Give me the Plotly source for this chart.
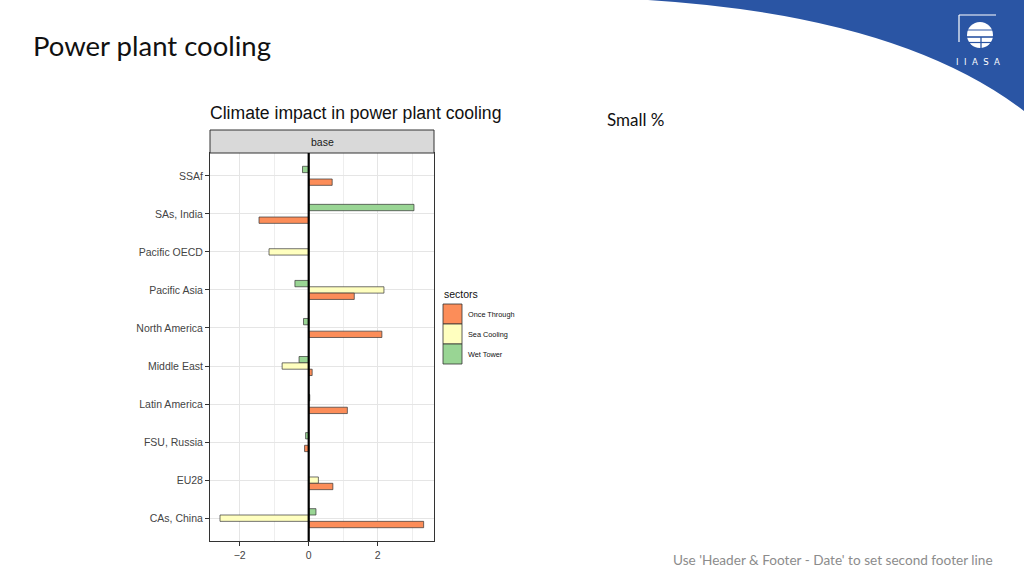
import plotly.graph_objects as go

# ---- data ----
regions = ["SSAf", "SAs, India", "Pacific OECD", "Pacific Asia", "North America",
           "Middle East", "Latin America", "FSU, Russia", "EU28", "CAs, China"]
once_through = [0.68, -1.44, None, 1.32, 2.12, 0.10, 1.12, -0.12, 0.70, 3.33]
sea_cooling = [None, None, -1.15, 2.18, None, -0.77, None, None, 0.28, -2.57]
wet_tower = [-0.18, 3.05, None, -0.40, -0.15, -0.28, 0.03, -0.09, None, 0.21]

sector_names = ["Once Through", "Sea Cooling", "Wet Tower"]
sector_colors = ["#fc8d59", "#ffffbf", "#99d594"]
x_ticks = [-2, 0, 2]

W, H = 1024, 576
BLUE = "#2a55a4"


def px(x):
    return x / W


def py(y):
    return 1 - y / H


fig = go.Figure()
# top-to-bottom within a group: Wet Tower, Sea Cooling, Once Through
for name, vals, col in [("Wet Tower", wet_tower, sector_colors[2]),
                        ("Sea Cooling", sea_cooling, sector_colors[1]),
                        ("Once Through", once_through, sector_colors[0])]:
    fig.add_trace(go.Bar(
        y=regions, x=vals, orientation="h", name=name,
        marker=dict(color=col, line=dict(color="#333333", width=0.7)),
        showlegend=False, hoverinfo="x+y+name"))

shapes = []
# blue swoosh top-right
shapes.append(dict(type="path", xref="paper", yref="paper",
                   path=f"M {px(648)},{py(0)} Q {px(900)},{py(16)} {px(1024)},{py(111)} "
                        f"L {px(1024)},{py(0)} Z",
                   fillcolor=BLUE, line=dict(width=0), layer="below"))
# logo bracket
shapes.append(dict(type="line", xref="paper", yref="paper", x0=px(959), x1=px(996),
                   y0=py(15), y1=py(15), line=dict(color="white", width=1.2)))
shapes.append(dict(type="line", xref="paper", yref="paper", x0=px(959), x1=px(959),
                   y0=py(15), y1=py(42), line=dict(color="white", width=1.2)))
# logo globe
shapes.append(dict(type="circle", xref="paper", yref="paper", x0=px(967), x1=px(993),
                   y0=py(22), y1=py(48), fillcolor="white", line=dict(width=0)))
for yy, wdt in [(30, 1.0), (37, 1.6), (42.5, 1.2)]:
    shapes.append(dict(type="line", xref="paper", yref="paper", x0=px(965), x1=px(995),
                       y0=py(yy), y1=py(yy), line=dict(color=BLUE, width=wdt)))
shapes.append(dict(type="line", xref="paper", yref="paper", x0=px(981), x1=px(981),
                   y0=py(37), y1=py(49), line=dict(color=BLUE, width=1.3)))
# facet strip
shapes.append(dict(type="rect", xref="paper", yref="paper", x0=px(210), x1=px(434),
                   y0=py(130), y1=py(153), fillcolor="#d9d9d9",
                   line=dict(color="#333333", width=1)))
# zero line
shapes.append(dict(type="line", xref="x", yref="paper", x0=0, x1=0,
                   y0=py(541), y1=py(153), line=dict(color="black", width=2.2),
                   layer="above"))
# legend keys
for i, col in enumerate(sector_colors):
    y0 = 304 + 20 * i
    shapes.append(dict(type="rect", xref="paper", yref="paper", x0=px(443), x1=px(462),
                       y0=py(y0), y1=py(y0 + 20), fillcolor=col,
                       line=dict(color="#333333", width=0.8)))

ann = []
ann.append(dict(text="Power plant cooling", x=px(31), y=py(45), xref="paper", yref="paper",
                xanchor="left", yanchor="middle", showarrow=False,
                font=dict(family="Lato", size=27.5, color="#111111")))
ann.append(dict(text="Small %", x=px(605), y=py(119), xref="paper", yref="paper",
                xanchor="left", yanchor="middle", showarrow=False,
                font=dict(family="Lato", size=17, color="#111111")))
ann.append(dict(text="Use 'Header & Footer - Date' to set second footer line",
                x=px(671), y=py(560), xref="paper", yref="paper",
                xanchor="left", yanchor="middle", showarrow=False,
                font=dict(family="Lato", size=13.6, color="#8c8c8c")))
ann.append(dict(text="I  I  A  S  A", x=px(978), y=py(62), xref="paper", yref="paper",
                xanchor="center", yanchor="middle", showarrow=False,
                font=dict(family="DejaVu Sans Condensed", size=9.5, color="white")))
ann.append(dict(text="Climate impact in power plant cooling", x=px(208), y=py(113),
                xref="paper", yref="paper", xanchor="left", yanchor="middle",
                showarrow=False,
                font=dict(family="Liberation Sans", size=17.6, color="#111111")))
ann.append(dict(text="base", x=px(322), y=py(142), xref="paper", yref="paper",
                xanchor="center", yanchor="middle", showarrow=False,
                font=dict(family="Liberation Sans", size=10.5, color="#1a1a1a")))
ann.append(dict(text="sectors", x=px(442), y=py(294), xref="paper", yref="paper",
                xanchor="left", yanchor="middle", showarrow=False,
                font=dict(family="Liberation Sans", size=10.5, color="#111111")))
for i, nm in enumerate(sector_names):
    ann.append(dict(text=nm, x=px(466), y=py(314 + 20 * i), xref="paper", yref="paper",
                    xanchor="left", yanchor="middle", showarrow=False,
                    font=dict(family="Liberation Sans", size=7.3, color="#111111")))

fig.update_layout(
    width=W, height=H, autosize=False,
    margin=dict(l=0, r=0, t=0, b=0),
    paper_bgcolor="white", plot_bgcolor="white",
    barmode="group", bargap=0.5, bargroupgap=0,
    shapes=shapes, annotations=ann,
    font=dict(family="Liberation Sans"),
    showlegend=False,
    xaxis=dict(domain=[px(210), px(434)], range=[-2.86, 3.63],
               tickmode="array", tickvals=x_ticks, ticktext=["\u22122", "0", "2"],
               showgrid=True, gridcolor="#e5e5e5", gridwidth=1,
               minor=dict(tickmode="array", tickvals=[-3, -1, 1, 3], showgrid=True,
                          gridcolor="#eeeeee", gridwidth=0.7, ticks=""),
               zeroline=False, showline=True, mirror=True, linecolor="#333333",
               linewidth=1, ticks="outside", ticklen=4, tickcolor="#333333",
               tickfont=dict(family="Liberation Sans", size=10.5, color="#444444")),
    yaxis=dict(domain=[py(541), py(153)], type="category",
               categoryorder="array", categoryarray=regions,
               range=[9.6, -0.6],
               showgrid=True, gridcolor="#e5e5e5", gridwidth=1,
               zeroline=False, showline=True, mirror=True, linecolor="#333333",
               linewidth=1, ticks="outside", ticklen=4, tickcolor="#333333",
               tickfont=dict(family="Liberation Sans", size=10.5, color="#444444")),
)

fig.write_html("out.html", config={"displayModeBar": False},
               post_script="document.body.style.margin='0px';"
                           "document.body.style.overflow='hidden';")
